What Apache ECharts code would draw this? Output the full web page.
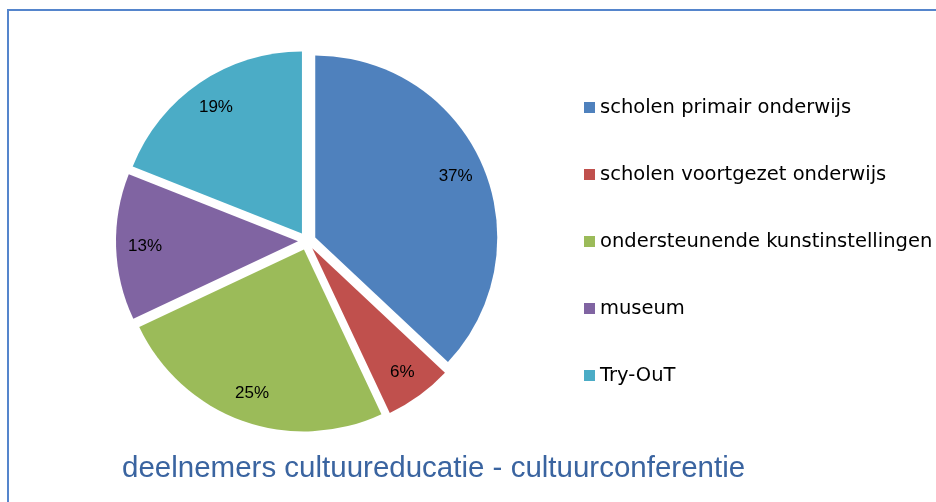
<!DOCTYPE html>
<html>
<head>
<meta charset="utf-8">
<script src="https://cdn.jsdelivr.net/npm/echarts@6/dist/echarts.min.js"></script>
<style>html,body{margin:0;padding:0;background:#fff}#c{width:936px;height:502px}</style>
</head>
<body>
<div id="c"></div>
<script>
var categories = ['scholen primair onderwijs', 'scholen voortgezet onderwijs', 'ondersteunende kunstinstellingen', 'museum', 'Try-OuT'];
var values = [37, 6, 25, 13, 19];
var colors = ['#4F81BD', '#C0504D', '#9BBB59', '#8064A2', '#4BACC6'];
var titleText = 'deelnemers cultuureducatie - cultuurconferentie';

var chart = echarts.init(document.getElementById('c'));
function mkData(withColor) {
  return categories.map(function (n, i) {
    return { name: n, value: values[i], selected: true,
      itemStyle: { color: withColor ? colors[i] : 'rgba(0,0,0,0)' } };
  });
}
var center = [307, 241];
chart.setOption({
  animation: false,
  graphic: [{
    type: 'rect', shape: { x: 8, y: 10, width: 1000, height: 600 },
    style: { fill: 'none', stroke: '#5585CC', lineWidth: 2 }, silent: true, z: -1
  }],
  title: {
    text: titleText, left: 117, top: 449,
    textStyle: { color: '#3A64A0', fontSize: 29.5, fontWeight: 'normal', fontFamily: 'Liberation Sans' }
  },
  legend: {
    orient: 'vertical', left: 584, top: 97.5, padding: 0, itemWidth: 11, itemHeight: 11, itemGap: 47,
    icon: 'rect',
    textStyle: { fontFamily: 'DejaVu Sans', fontSize: 19.5, color: '#000' },
    data: categories
  },
  series: [{
    type: 'pie', center: center, radius: [0, 182], startAngle: 90, clockwise: true,
    selectedMode: 'multiple', selectedOffset: 9, silent: true,
    label: { show: false }, labelLine: { show: false },
    data: mkData(true)
  }, {
    type: 'pie', center: center, radius: [138, 162], startAngle: 90, clockwise: true,
    selectedMode: 'multiple', selectedOffset: 9, silent: true,
    label: { show: true, position: 'inside', formatter: '{d}%', color: '#000', fontSize: 17, fontFamily: 'Liberation Sans' },
    labelLine: { show: false },
    data: mkData(false)
  }]
});
</script>
</body>
</html>
